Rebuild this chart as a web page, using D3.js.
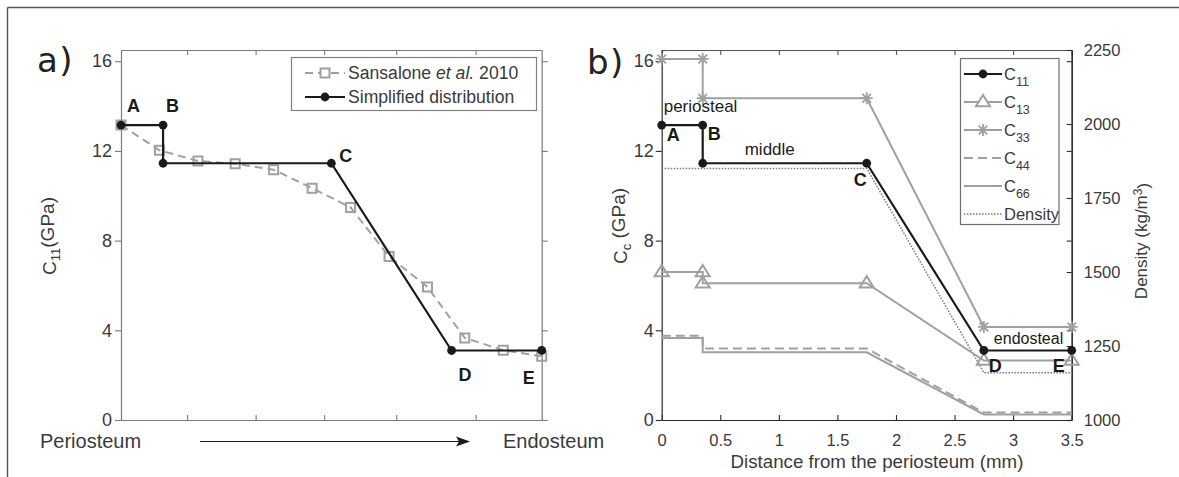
<!DOCTYPE html>
<html>
<head>
<meta charset="utf-8">
<script src="https://cdn.jsdelivr.net/npm/d3@7"></script>
<style>
  body { margin: 0; background: #fff; }
  svg { display: block; }
</style>
</head>
<body>
<svg id="fig" width="1179" height="477"></svg>
<script>
// ---- data --------------------------------------------------------------
// Sansalone et al. 2010 C11 profile (distance in mm, GPa)
const sansaloneX   = [0, 0.32, 0.64, 0.95, 1.27, 1.59, 1.91, 2.23, 2.55, 2.86, 3.18, 3.5];
const sansaloneC11 = [13.15, 12.03, 11.55, 11.43, 11.16, 10.34, 9.48, 7.29, 5.93, 3.66, 3.11, 2.84];

// Simplified piecewise distribution: nodes A, B(top), B(bottom), C, D, E
const nodeX = [0, 0.35, 0.35, 1.75, 2.75, 3.5];
const c11   = [13.15, 13.15, 11.45, 11.45, 3.1, 3.1];
const c13   = [6.6, 6.6, 6.1, 6.1, 2.65, 2.65];
const c33   = [16.1, 16.1, 14.35, 14.35, 4.15, 4.15];
const c44   = [3.76, 3.76, 3.19, 3.19, 0.33, 0.33];
const c66   = [3.66, 3.66, 3.02, 3.02, 0.25, 0.25];

// Density profile (kg/m^3)
const densityX = [0, 1.75, 2.75, 3.5];
const density  = [1850, 1850, 1160, 1160];

// Ticks
const stiffTicks   = [0, 4, 8, 12, 16];
const distTicks    = [0, 0.5, 1, 1.5, 2, 2.5, 3, 3.5];
const densityTicks = [1000, 1250, 1500, 1750, 2000, 2250];
const thicknessTicks = [0.55, 1.12, 1.69, 2.29, 2.95];

// Point labels
const labelsA = ["A", "B", "C", "D", "E"];

// ---- setup ---------------------------------------------------------------
const FONT = "'Liberation Sans', Arial, Helvetica, sans-serif";
const GREY = "#a0a0a0";
const BLACK = "#1a1a1a";
const TXT = "#3a3a3a";

const svg = d3.select("#fig");

// outer frame
svg.append("line").attr("x1", 7.5).attr("x2", 1179).attr("y1", 7.5).attr("y2", 7.5)
  .attr("stroke", "#555").attr("stroke-width", 1.4);
svg.append("line").attr("x1", 7.5).attr("x2", 7.5).attr("y1", 7.5).attr("y2", 477)
  .attr("stroke", "#555").attr("stroke-width", 1.4);

function styleAxis(g, color, size) {
  g.attr("font-family", FONT).attr("font-size", size || 16.5);
  g.selectAll("path.domain").attr("stroke", color).attr("stroke-width", 1.2);
  g.selectAll("line").attr("stroke", color).attr("stroke-width", 1.1);
  g.selectAll("text").attr("fill", TXT);
}

// marker shapes
const squarePath = "M-4.5,-4.5H4.5V4.5H-4.5Z";
const trianglePath = "M0,-7L7,4.2L-7,4.2Z";
const asteriskPath = "M-6,0H6M0,-6V6M-4.3,-4.3L4.3,4.3M-4.3,4.3L4.3,-4.3";

// ---- panel a -----------------------------------------------------------
const xa = d3.scaleLinear().domain([0, 3.5]).range([121, 541.7]);
const ya = d3.scaleLinear().domain([0, 16.5]).range([420, 50]);
const A_AX = "#7a7a7a";

const ga = svg.append("g");

ga.append("g").attr("transform", "translate(0,420)")
  .call(d3.axisBottom(xa).tickValues(thicknessTicks).tickSizeInner(-5).tickSizeOuter(0).tickFormat(""))
  .call(g => styleAxis(g, A_AX));
ga.append("g").attr("transform", "translate(0,50)")
  .call(d3.axisTop(xa).tickValues(thicknessTicks).tickSizeInner(-5).tickSizeOuter(0).tickFormat(""))
  .call(g => styleAxis(g, A_AX));
ga.append("g").attr("transform", "translate(121,0)")
  .call(d3.axisLeft(ya).tickValues(stiffTicks).tickSizeInner(6).tickSizeOuter(0).tickPadding(3))
  .call(g => styleAxis(g, A_AX, 18));
ga.append("g").attr("transform", "translate(541.7,0)")
  .call(d3.axisRight(ya).tickValues(stiffTicks).tickSizeInner(6).tickSizeOuter(0).tickFormat(""))
  .call(g => styleAxis(g, A_AX));

// Sansalone dashed line with square markers
const sansPts = sansaloneX.map((x, i) => [x, sansaloneC11[i]]);
ga.append("path").datum(sansPts)
  .attr("d", d3.line().x(d => xa(d[0])).y(d => ya(d[1])))
  .attr("fill", "none").attr("stroke", GREY).attr("stroke-width", 2).attr("stroke-dasharray", "8,5");
ga.selectAll("path.sq").data(sansPts).join("path").attr("class", "sq")
  .attr("transform", d => `translate(${xa(d[0])},${ya(d[1])})`)
  .attr("d", squarePath).attr("fill", "none").attr("stroke", GREY).attr("stroke-width", 2);

// Simplified distribution
const simpPts = nodeX.map((x, i) => [x, c11[i]]);
ga.append("path").datum(simpPts)
  .attr("d", d3.line().x(d => xa(d[0])).y(d => ya(d[1])))
  .attr("fill", "none").attr("stroke", BLACK).attr("stroke-width", 2.2);
ga.selectAll("circle.nd").data(simpPts).join("circle").attr("class", "nd")
  .attr("cx", d => xa(d[0])).attr("cy", d => ya(d[1])).attr("r", 4.4).attr("fill", BLACK);

// point letters
const aLabelPos = [[0, 0, 6, -13], [1, 0.35, 3, -13], [3, 1.75, 8, -1], [4, 2.75, 7, 31], [5, 3.5, -19, 34]];
aLabelPos.forEach(([idx, x, dx, dy], k) => {
  ga.append("text").attr("x", xa(x) + dx).attr("y", ya(c11[idx]) + dy)
    .attr("font-family", FONT).attr("font-size", 18).attr("font-weight", "bold").attr("fill", BLACK)
    .attr("text-anchor", "start").text(labelsA[k]);
});

// y label
ga.append("text").attr("transform", "translate(56,236) rotate(-90)")
  .attr("text-anchor", "middle").attr("font-family", FONT).attr("font-size", 19).attr("fill", TXT)
  .call(t => {
    t.append("tspan").text("C");
    t.append("tspan").attr("dy", "0.3em").attr("font-size", 13).text("11");
    t.append("tspan").attr("dy", "-0.3em").text("(GPa)");
  });

// legend a
const la = ga.append("g");
la.append("rect").attr("x", 291.5).attr("y", 57.5).attr("width", 245).attr("height", 53)
  .attr("fill", "#fff").attr("stroke", "#808080").attr("stroke-width", 1.2);
la.append("line").attr("x1", 305).attr("x2", 345).attr("y1", 73).attr("y2", 73)
  .attr("stroke", GREY).attr("stroke-width", 2).attr("stroke-dasharray", "8,5");
la.append("path").attr("transform", "translate(325,73)").attr("d", squarePath)
  .attr("fill", "#fff").attr("stroke", GREY).attr("stroke-width", 2);
la.append("text").attr("x", 348).attr("y", 79).attr("font-family", FONT).attr("font-size", 17.6).attr("fill", TXT)
  .call(t => {
    t.append("tspan").text("Sansalone ");
    t.append("tspan").attr("font-style", "italic").text("et al.");
    t.append("tspan").text(" 2010");
  });
la.append("line").attr("x1", 305).attr("x2", 345).attr("y1", 97).attr("y2", 97)
  .attr("stroke", BLACK).attr("stroke-width", 2.2);
la.append("circle").attr("cx", 325).attr("cy", 97).attr("r", 4.4).attr("fill", BLACK);
la.append("text").attr("x", 348).attr("y", 103).attr("font-family", FONT).attr("font-size", 17.6).attr("fill", TXT)
  .text("Simplified distribution");

// bottom annotation: Periosteum -> Endosteum
ga.append("text").attr("x", 40).attr("y", 448).attr("font-family", FONT).attr("font-size", 20)
  .attr("fill", TXT).text("Periosteum");
ga.append("text").attr("x", 503).attr("y", 448).attr("font-family", FONT).attr("font-size", 20)
  .attr("fill", TXT).text("Endosteum");
ga.append("line").attr("x1", 200).attr("x2", 460).attr("y1", 441.5).attr("y2", 441.5)
  .attr("stroke", BLACK).attr("stroke-width", 1);
ga.append("path").attr("d", "M470,441.5L456,436.5L459,441.5L456,446.5Z").attr("fill", BLACK);

// panel tag
svg.append("text").attr("x", 37).attr("y", 72).attr("font-family", "'DejaVu Sans', sans-serif")
  .attr("font-size", 34).attr("letter-spacing", 1.5).attr("fill", "#222").text("a)");

// ---- panel b -----------------------------------------------------------
const xb = d3.scaleLinear().domain([0, 3.5]).range([661.7, 1071.7]);
const yb = d3.scaleLinear().domain([0, 16.5]).range([420, 50]);
const yd = d3.scaleLinear().domain([1000, 2250]).range([420, 50]);
const B_AX = "#2a2a2a";

const gb = svg.append("g");

gb.append("g").attr("transform", "translate(0,420)")
  .call(d3.axisBottom(xb).tickValues(distTicks).tickSizeInner(-5).tickSizeOuter(0).tickPadding(14)
    .tickFormat(d3.format("")))
  .call(g => styleAxis(g, B_AX, 16.5));
gb.append("g").attr("transform", "translate(0,50)")
  .call(d3.axisTop(xb).tickValues(distTicks).tickSizeInner(-5).tickSizeOuter(0).tickFormat(""))
  .call(g => styleAxis(g, "#555"));
gb.append("g").attr("transform", "translate(661.7,0)")
  .call(d3.axisLeft(yb).tickValues(stiffTicks).tickSizeInner(6).tickSizeOuter(0).tickPadding(2))
  .call(g => styleAxis(g, B_AX, 18));
gb.append("g").attr("transform", "translate(1071.7,0)")
  .call(d3.axisRight(yb).tickValues(stiffTicks).tickSizeInner(-5).tickSizeOuter(0).tickFormat(""))
  .call(g => styleAxis(g, B_AX));
gb.append("g").attr("transform", "translate(1071.7,0)")
  .call(d3.axisRight(yd).tickValues(densityTicks).tickSizeInner(-5).tickSizeOuter(0).tickPadding(12)
    .tickFormat(d3.format("d")))
  .call(g => styleAxis(g, B_AX, 16.5));

const lineB = d3.line().x(d => xb(d[0])).y(d => yb(d[1]));
const pts = arr => nodeX.map((x, i) => [x, arr[i]]);

// density (right axis)
const densPts = densityX.map((x, i) => [x, density[i]]);
gb.append("path").datum(densPts)
  .attr("d", d3.line().x(d => xb(d[0])).y(d => yd(d[1])))
  .attr("fill", "none").attr("stroke", "#7a7a7a").attr("stroke-width", 1.5).attr("stroke-dasharray", "1.5,1.5");

// C66, C44
gb.append("path").datum(pts(c66)).attr("d", lineB)
  .attr("fill", "none").attr("stroke", GREY).attr("stroke-width", 2);
gb.append("path").datum(pts(c44)).attr("d", lineB)
  .attr("fill", "none").attr("stroke", GREY).attr("stroke-width", 2).attr("stroke-dasharray", "9,5");

// C13 with triangles
gb.append("path").datum(pts(c13)).attr("d", lineB)
  .attr("fill", "none").attr("stroke", GREY).attr("stroke-width", 2);
gb.selectAll("path.tri").data(pts(c13)).join("path").attr("class", "tri")
  .attr("transform", d => `translate(${xb(d[0])},${yb(d[1])})`)
  .attr("d", trianglePath).attr("fill", "none").attr("stroke", GREY).attr("stroke-width", 2);

// C33 with asterisks
gb.append("path").datum(pts(c33)).attr("d", lineB)
  .attr("fill", "none").attr("stroke", GREY).attr("stroke-width", 2);
gb.selectAll("path.ast").data(pts(c33)).join("path").attr("class", "ast")
  .attr("transform", d => `translate(${xb(d[0])},${yb(d[1])})`)
  .attr("d", asteriskPath).attr("fill", "none").attr("stroke", GREY).attr("stroke-width", 1.8);

// C11 with dots
gb.append("path").datum(pts(c11)).attr("d", lineB)
  .attr("fill", "none").attr("stroke", BLACK).attr("stroke-width", 2.2);
gb.selectAll("circle.nd").data(pts(c11)).join("circle").attr("class", "nd")
  .attr("cx", d => xb(d[0])).attr("cy", d => yb(d[1])).attr("r", 4.4).attr("fill", BLACK);

// region names and point letters
function note(g, x, y, str, opts) {
  return g.append("text").attr("x", x).attr("y", y).attr("font-family", FONT)
    .attr("font-size", opts.size).attr("font-weight", opts.bold ? "bold" : "normal")
    .attr("fill", BLACK).text(str);
}
note(gb, xb(0) + 2, yb(c11[0]) - 13, "periosteal", { size: 17 });
note(gb, xb(0.35) + 42, yb(c11[2]) - 8, "middle", { size: 17 });
const endo = note(gb, xb(2.75) + 10, yb(c33[4]) + 17, "endosteal", { size: 16 });
const bb = endo.node().getBBox();
gb.insert("rect", () => endo.node()).attr("x", bb.x - 1).attr("y", bb.y).attr("width", bb.width + 2)
  .attr("height", bb.height).attr("fill", "#fff");
const bLabelPos = [[0, 0, 5, 16], [1, 0.35, 5, 15], [3, 1.75, -13, 23], [4, 2.75, 5, 22], [5, 3.5, -19, 22]];
bLabelPos.forEach(([idx, x, dx, dy], k) => {
  note(gb, xb(x) + dx, yb(c11[idx]) + dy, labelsA[k], { size: 18, bold: true });
});

// axis titles
gb.append("text").attr("x", 877).attr("y", 468).attr("text-anchor", "middle")
  .attr("font-family", FONT).attr("font-size", 18.7).attr("fill", TXT)
  .text("Distance from the periosteum (mm)");
gb.append("text").attr("transform", "translate(627,226) rotate(-90)")
  .attr("text-anchor", "middle").attr("font-family", FONT).attr("font-size", 19).attr("fill", TXT)
  .call(t => {
    t.append("tspan").text("C");
    t.append("tspan").attr("dy", "0.3em").attr("font-size", 13).text("c");
    t.append("tspan").attr("dy", "-0.3em").text(" (GPa)");
  });
gb.append("text").attr("transform", "translate(1147,241) rotate(-90)")
  .attr("text-anchor", "middle").attr("font-family", FONT).attr("font-size", 17).attr("fill", TXT)
  .call(t => {
    t.append("tspan").text("Density (kg/m");
    t.append("tspan").attr("dy", "-0.45em").attr("font-size", 12).text("3");
    t.append("tspan").attr("dy", "0.45em").text(")");
  });

// legend b
const legendItems = [
  { name: "11", stroke: BLACK, dash: null, marker: "dot" },
  { name: "13", stroke: GREY, dash: null, marker: "tri" },
  { name: "33", stroke: GREY, dash: null, marker: "ast" },
  { name: "44", stroke: GREY, dash: "9,5", marker: null },
  { name: "66", stroke: GREY, dash: null, marker: null },
  { name: "Density", stroke: "#7a7a7a", dash: "1.5,1.5", marker: null }
];
const legendRowY = [74, 102, 130, 158, 186, 214];
const lb = gb.append("g");
lb.append("rect").attr("x", 960.5).attr("y", 58.5).attr("width", 98.5).attr("height", 166)
  .attr("fill", "#fff").attr("stroke", "#707070").attr("stroke-width", 1.2);
legendItems.forEach((it, i) => {
  const y = legendRowY[i];
  lb.append("line").attr("x1", 964).attr("x2", 1002).attr("y1", y).attr("y2", y)
    .attr("stroke", it.stroke).attr("stroke-width", it.name === "Density" ? 1.5 : (it.stroke === BLACK ? 2.2 : 2))
    .attr("stroke-dasharray", it.dash);
  if (it.marker === "dot") lb.append("circle").attr("cx", 983).attr("cy", y).attr("r", 4.4).attr("fill", BLACK);
  if (it.marker === "tri") lb.append("path").attr("transform", `translate(983,${y})`).attr("d", trianglePath)
    .attr("fill", "#fff").attr("stroke", GREY).attr("stroke-width", 2);
  if (it.marker === "ast") lb.append("path").attr("transform", `translate(983,${y})`).attr("d", asteriskPath)
    .attr("fill", "none").attr("stroke", GREY).attr("stroke-width", 1.8);
  const t = lb.append("text").attr("x", 1004).attr("y", y + 5.5).attr("font-family", FONT)
    .attr("font-size", 16.5).attr("fill", TXT);
  if (it.name === "Density") {
    t.text("Density");
  } else {
    t.append("tspan").text("C");
    t.append("tspan").attr("dy", "0.5em").attr("font-size", 12.5).text(it.name);
  }
});

// panel tag
svg.append("text").attr("x", 587).attr("y", 74).attr("font-family", "'DejaVu Sans', sans-serif")
  .attr("font-size", 34).attr("letter-spacing", 1.5).attr("fill", "#222").text("b)");
</script>
</body>
</html>
